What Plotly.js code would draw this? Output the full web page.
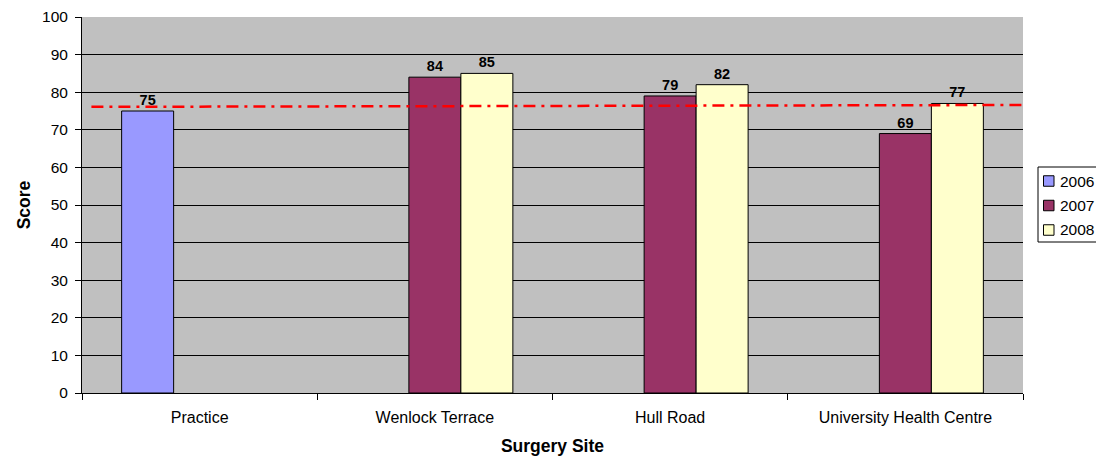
<!DOCTYPE html>
<html><head><meta charset="utf-8">
<script src="https://cdn.plot.ly/plotly-3.0.1.min.js"></script>
<style>body{margin:0;padding:0;background:#fff}#chart{width:1096px;height:456px}</style>
</head><body><div id="chart"></div>
<script>
const categories = ['Practice', 'Wenlock Terrace', 'Hull Road', 'University Health Centre'];
const s2006 = [75, null, null, null];
const s2007 = [null, 84, 79, 69];
const s2008 = [null, 85, 82, 77];
const seriesNames = ['2006', '2007', '2008'];
const avgLineX = [0.01, 1];
const avgLineY = [76.1, 76.6];

const FONT = 'Liberation Sans, Arial, sans-serif';
const colors = ['#9999FF', '#993366', '#FFFFCC'];
const M = {l: 82, r: 73, t: 17, b: 63};
const W = 1096, H = 456;
const PW = W - M.l - M.r, PH = H - M.t - M.b;
const px = x => (x - M.l) / PW;
const py = y => (H - M.b - y) / PH;

const data = [s2006, s2007, s2008].map((vals, i) => ({
  type: 'bar', x: categories, y: vals, name: seriesNames[i],
  marker: {color: colors[i], line: {color: '#000', width: 1}},
  texttemplate: '%{y}', textposition: 'outside', cliponaxis: false,
  textfont: {family: FONT, size: 14.5, color: '#000', weight: 'bold'},
  showlegend: false
}));
data.push({
  type: 'scatter', mode: 'lines', x: avgLineX, y: avgLineY, xaxis: 'x2', yaxis: 'y',
  line: {color: '#FF0000', width: 2.5, dash: '12px,6px,3px,6px'}, showlegend: false, hoverinfo: 'skip'
});

// custom legend (box, swatches, labels)
const shapes = [{
  type: 'rect', xref: 'paper', yref: 'paper', x0: px(1038), x1: px(1100), y0: py(242), y1: py(167),
  line: {color: '#000', width: 1}, fillcolor: '#fff', layer: 'above'
}];
const annotations = [];
const legendY = [181, 205.5, 230];
seriesNames.forEach((n, i) => {
  shapes.push({
    type: 'rect', xref: 'paper', yref: 'paper',
    x0: px(1043.5), x1: px(1054), y0: py(legendY[i] + 5.25), y1: py(legendY[i] - 5.25),
    line: {color: '#000', width: 1}, fillcolor: colors[i], layer: 'above'
  });
  annotations.push({
    xref: 'paper', yref: 'paper', x: px(1057.5), y: py(legendY[i]), xanchor: 'left', yanchor: 'middle',
    text: n, showarrow: false, font: {family: FONT, size: 15.5, color: '#000'}
  });
});

const layout = {
  width: W, height: H,
  margin: {l: M.l, r: M.r, t: M.t, b: M.b, autoexpand: false},
  paper_bgcolor: '#fff', plot_bgcolor: '#C0C0C0',
  font: {family: FONT, size: 15, color: '#000'},
  barmode: 'group', bargap: 0.337, bargroupgap: 0,
  showlegend: false,
  shapes: shapes, annotations: annotations,
  xaxis: {
    type: 'category', showline: true, linecolor: '#000', linewidth: 1,
    ticks: 'outside', tickson: 'boundaries', ticklen: 6, tickcolor: '#000',
    showgrid: false, tickfont: {family: FONT, size: 16}, ticklabelstandoff: 10,
    title: {text: 'Surgery Site', font: {family: FONT, size: 17.5, weight: 'bold'}, standoff: 16}
  },
  xaxis2: {overlaying: 'x', range: [0, 1], visible: false},
  yaxis: {
    range: [0, 100], dtick: 10, showline: true, linecolor: '#000', linewidth: 1,
    ticks: 'outside', ticklen: 6, tickcolor: '#000', ticklabelstandoff: 4,
    showgrid: true, gridcolor: '#000', gridwidth: 1, zeroline: false,
    tickfont: {family: FONT, size: 15.5},
    title: {text: 'Score', font: {family: FONT, size: 17.5, weight: 'bold'}, standoff: 6}
  }
};
Plotly.newPlot('chart', data, layout, {displayModeBar: false, staticPlot: true});
</script></body></html>
